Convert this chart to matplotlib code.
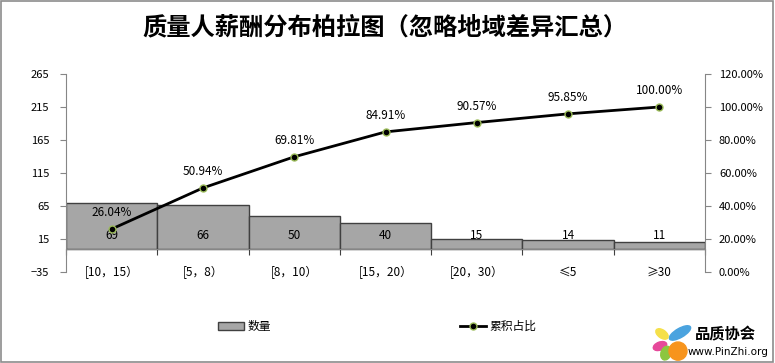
import matplotlib
matplotlib.use('Agg')
import matplotlib.pyplot as plt
from matplotlib.patches import Rectangle, Ellipse
from matplotlib.ticker import FuncFormatter, FixedLocator
from matplotlib.lines import Line2D

plt.rcParams['font.family'] = ['Noto Sans CJK SC', 'DejaVu Sans']

categories = ['[10，15）', '[5，8）', '[8，10）', '[15，20）', '[20，30）', '≤5', '≥30']
counts = [69, 66, 50, 40, 15, 14, 11]
cum_pct = [26.04, 50.94, 69.81, 84.91, 90.57, 95.85, 100.00]
left_ticks = [-35, 15, 65, 115, 165, 215, 265]
right_ticks = [0, 20, 40, 60, 80, 100, 120]

fig = plt.figure(figsize=(7.75, 3.63), dpi=100)
fig.patch.set_facecolor('white')
fig.patches.append(Rectangle((0.001, 0.002), 0.997, 0.995, transform=fig.transFigure,
                             fill=False, edgecolor='#8c8c8c', linewidth=1.2))

ax = fig.add_axes([66 / 775, 1 - 272 / 363, 639 / 775, 198 / 363])
x = list(range(len(categories)))
ax.bar(x, counts, width=1.0, color='#a6a6a6', edgecolor='#404040', linewidth=1.0, zorder=2)
ax.set_xlim(-0.5, len(categories) - 0.5)
ax.set_ylim(-35, 265)
ax.set_yticks(left_ticks)
ax.tick_params(axis='y', labelsize=8, colors='#868686', labelcolor='black', length=4, pad=8)

for i, v in enumerate(counts):
    ax.text(i, 21, str(v), ha='center', va='center', fontsize=8.5, color='black', zorder=5)

# x axis line at zero, ticks between categories
ax.spines['bottom'].set_position(('data', 0))
ax.spines['top'].set_visible(False)
ax.spines['right'].set_visible(False)
for s in ['left', 'bottom']:
    ax.spines[s].set_color('#868686')
ax.xaxis.set_major_locator(FixedLocator([i - 0.5 for i in range(len(categories) + 1)]))
ax.xaxis.set_major_formatter(FuncFormatter(lambda v, p: ''))
ax.xaxis.set_minor_locator(FixedLocator(x))
ax.set_xticklabels(categories, minor=True)
ax.tick_params(axis='x', which='major', length=4, colors='#404040', direction='out')
ax.tick_params(axis='x', which='minor', length=0, labelsize=8.5, pad=12)

ax2 = ax.twinx()
ax2.plot(x, cum_pct, color='black', linewidth=2, marker='o', markersize=5,
         markerfacecolor='black', markeredgecolor='#9bbb59', markeredgewidth=1, zorder=4)
ax2.set_ylim(0, 120)
ax2.set_yticks(right_ticks)
ax2.yaxis.set_major_formatter(FuncFormatter(lambda v, p: '%.2f%%' % v))
ax2.tick_params(axis='y', labelsize=8, colors='#868686', labelcolor='black', length=4, pad=6)
for s in ['top', 'left', 'bottom']:
    ax2.spines[s].set_visible(False)
ax2.spines['right'].set_color('#868686')
for i, v in enumerate(cum_pct):
    ax2.annotate('%.2f%%' % v, (i, v), xytext=(0, 7), textcoords='offset points',
                 ha='center', va='bottom', fontsize=8.5)

fig.text(0.497, 0.925, '质量人薪酬分布柏拉图（忽略地域差异汇总）', ha='center', va='center',
         fontsize=17.5, fontweight='bold')

h1 = Rectangle((0, 0), 1, 1, facecolor='#a6a6a6', edgecolor='#404040')
h2 = Line2D([], [], color='black', linewidth=2, marker='o', markersize=5,
            markerfacecolor='black', markeredgecolor='#9bbb59')
fig.legend([h1, h2], ['数量', '累积占比'], loc='center', bbox_to_anchor=(0.487, 0.1),
           ncol=2, frameon=False, fontsize=8.5, columnspacing=16, handlelength=2.2,
           handletextpad=0.3)

# logo
lax = fig.add_axes([650 / 775, 0.005, 45 / 775, 0.1])
lax.set_xlim(0, 45)
lax.set_ylim(0, 36)
lax.axis('off')
lax.add_patch(Ellipse((30, 28), 24, 9, angle=30, color='#4aa3df'))
lax.add_patch(Ellipse((12, 27), 14, 8, angle=-35, color='#f5e04a'))
lax.add_patch(Ellipse((10, 15), 14, 8, angle=20, color='#e6499a'))
lax.add_patch(Ellipse((16, 8), 10, 14, angle=-20, color='#8cc63f'))
lax.add_patch(Ellipse((28, 10), 18, 18, color='#f7941d'))
fig.text(695 / 775, 1 - 334 / 363, '品质协会', ha='left', va='center', fontsize=11, fontweight='bold')
fig.text(688 / 775, 1 - 352 / 363, 'www.PinZhi.org', ha='left', va='center', fontsize=7.5,
         family=['DejaVu Sans'])

fig.savefig('out.png', dpi=100)
